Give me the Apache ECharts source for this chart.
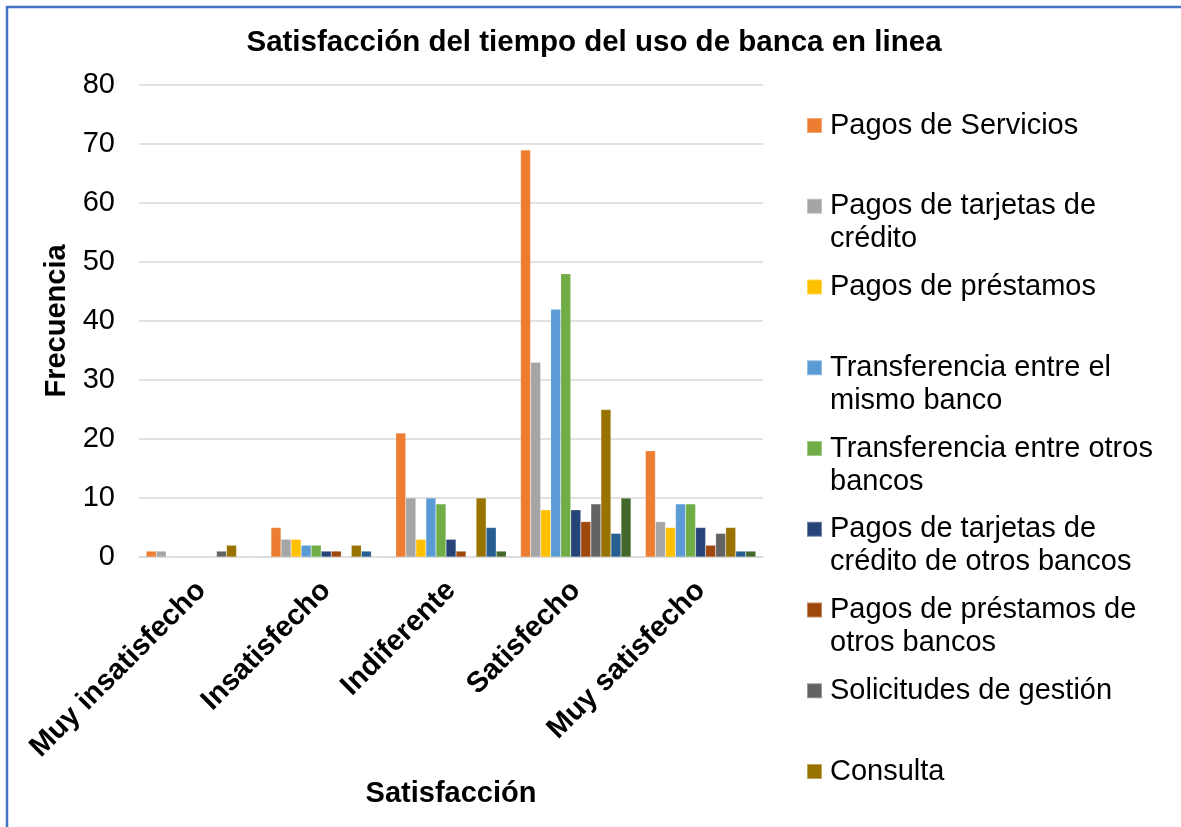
<!DOCTYPE html>
<html>
<head>
<meta charset="utf-8">
<script src="https://cdn.jsdelivr.net/npm/echarts@6/dist/echarts.min.js"></script>
<style>
  html, body { margin: 0; padding: 0; background: #ffffff; }
  #chart { width: 1181px; height: 827px; }
</style>
</head>
<body>
<div id="chart"></div>
<script>
// Categories on the x axis
const categories = ['Muy insatisfecho', 'Insatisfecho', 'Indiferente', 'Satisfecho', 'Muy satisfecho'];

// Frequency per category for each service
const pagosServicios      = [1, 5, 21, 69, 18];
const pagosTarjetas       = [1, 3, 10, 33, 6];
const pagosPrestamos      = [0, 3, 3, 8, 5];
const transfMismoBanco    = [0, 2, 10, 42, 9];
const transfOtrosBancos   = [0, 2, 9, 48, 9];
const tarjetasOtrosBancos = [0, 1, 3, 8, 5];
const prestamosOtrosBancos = [0, 1, 1, 6, 2];
const solicitudesGestion  = [1, 0, 0, 9, 4];
const consulta            = [2, 2, 10, 25, 5];
const pagosImpuestos      = [0, 1, 5, 4, 1];
const otros               = [0, 0, 1, 10, 1];

const seriesNames = [
  'Pagos de Servicios',
  'Pagos de tarjetas de crédito',
  'Pagos de préstamos',
  'Transferencia entre el mismo banco',
  'Transferencia entre otros bancos',
  'Pagos de tarjetas de crédito de otros bancos',
  'Pagos de préstamos de otros bancos',
  'Solicitudes de gestión',
  'Consulta',
  'Pagos de impuestos',
  'Otros'
];
const seriesValues = [
  pagosServicios, pagosTarjetas, pagosPrestamos, transfMismoBanco, transfOtrosBancos,
  tarjetasOtrosBancos, prestamosOtrosBancos, solicitudesGestion, consulta, pagosImpuestos, otros
];

// Legend entries shown (wrapped as in the legend box)
const legendLabels = [
  'Pagos de Servicios',
  'Pagos de tarjetas de\ncrédito',
  'Pagos de préstamos',
  'Transferencia entre el\nmismo banco',
  'Transferencia entre otros\nbancos',
  'Pagos de tarjetas de\ncrédito de otros bancos',
  'Pagos de préstamos de\notros bancos',
  'Solicitudes de gestión',
  'Consulta'
];

const yTicks = [0, 10, 20, 30, 40, 50, 60, 70, 80];

const colors = ['#ED7D31', '#A5A5A5', '#FFC000', '#5B9BD5', '#70AD47', '#264478',
                '#9E480E', '#636363', '#997300', '#255E91', '#43682B'];

const FONT = '"Liberation Sans", Arial, Helvetica, sans-serif';
const LINE_H = 33;

// One legend block per entry, so each icon sits on the first text line
const legends = legendLabels.map(function (label, i) {
  const lines = label.split('\n').length;
  const text = lines > 1 ? '\n' + label : label;
  const blockH = (lines > 1 ? lines + 1 : 1) * LINE_H;
  const center = 125.5 + i * 80.75;
  return {
    data: [seriesNames[i]],
    left: 806,
    top: center - blockH / 2,
    orient: 'vertical',
    padding: 0,
    itemWidth: 15,
    itemHeight: 15,
    icon: 'rect',
    selectedMode: false,
    formatter: function () { return text; },
    textStyle: {
      fontFamily: FONT,
      fontSize: 29,
      lineHeight: LINE_H,
      color: '#000000',
      padding: [0, 0, 0, 3]
    }
  };
});

const chart = echarts.init(document.getElementById('chart'), null, { renderer: 'canvas' });

chart.setOption({
  animation: false,
  backgroundColor: '#ffffff',
  color: colors,
  title: {
    text: 'Satisfacción del tiempo del uso de banca en linea',
    left: 594,
    textAlign: 'center',
    top: 28,
    padding: 0,
    textStyle: { fontFamily: FONT, fontSize: 29.5, fontWeight: 'bold', color: '#000000' }
  },
  legend: legends,
  grid: { left: 139, right: 418, top: 85, bottom: 270, containLabel: false },
  xAxis: {
    type: 'category',
    data: categories,
    name: 'Satisfacción',
    nameLocation: 'middle',
    nameGap: 222,
    nameTextStyle: { fontFamily: FONT, fontSize: 29, fontWeight: 'bold', color: '#000000' },
    axisLine: { show: true, lineStyle: { color: '#D9D9D9', width: 1.5 } },
    axisTick: { show: false },
    axisLabel: {
      interval: 0,
      rotate: 45,
      margin: 29,
      fontFamily: FONT,
      fontSize: 29,
      fontWeight: 'bold',
      color: '#000000'
    }
  },
  yAxis: {
    type: 'value',
    min: yTicks[0],
    max: yTicks[yTicks.length - 1],
    interval: 10,
    name: 'Frecuencia',
    nameLocation: 'middle',
    nameGap: 66,
    nameRotate: 90,
    nameTextStyle: { fontFamily: FONT, fontSize: 29, fontWeight: 'bold', color: '#000000' },
    axisLine: { show: false },
    axisTick: { show: false },
    splitLine: { show: true, lineStyle: { color: '#D9D9D9', width: 1.5 } },
    axisLabel: { margin: 24, fontFamily: FONT, fontSize: 29, color: '#000000' }
  },
  series: seriesNames.map(function (name, i) {
    return {
      name: name,
      type: 'bar',
      data: seriesValues[i],
      barGap: '0%',
      barCategoryGap: '11.5%',
      itemStyle: { color: colors[i], borderColor: 'rgba(255,255,255,0.35)', borderWidth: 0.5 }
    };
  }),
  graphic: [
    { type: 'line', shape: { x1: 7, y1: 6, x2: 7, y2: 827 }, style: { stroke: '#4472C4', lineWidth: 2.5 }, z: 100 },
    { type: 'line', shape: { x1: 6, y1: 7, x2: 1181, y2: 7 }, style: { stroke: '#4472C4', lineWidth: 2.5 }, z: 100 }
  ]
});
</script>
</body>
</html>
